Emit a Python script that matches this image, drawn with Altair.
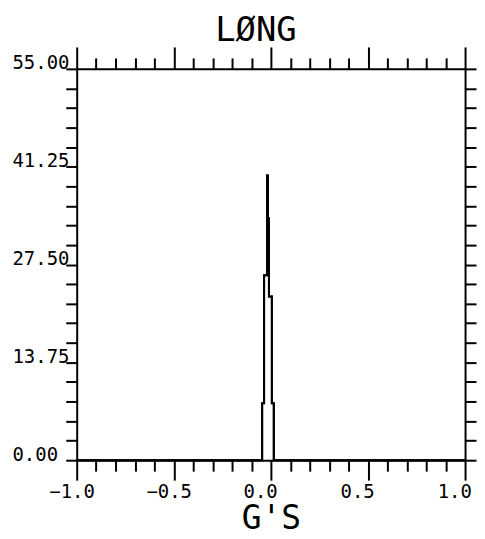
import altair as alt
import pandas as pd

# Histogram outline of the "LØNG" channel (step-after: x = bin left edge, y = height)
edge_x = [-1.0, -0.045, -0.035, -0.02, -0.015, -0.01, 0.005, 0.015, 1.0]
count_y = [0, 8, 26, 40, 34, 23, 8, 0, 0]

# axis ticks and labelled ticks
x_ticks = [round(-1.0 + 0.1 * i, 1) for i in range(21)]
x_major = [-1.0, -0.5, 0.0, 0.5, 1.0]
y_ticks = [2.75 * i for i in range(21)]
y_major = [0.0, 13.75, 27.5, 41.25, 55.0]

chart_title = "LØNG"
x_title = "G'S"

FONT = "DejaVu Sans Mono"
df = pd.DataFrame({"x": edge_x, "y": count_y})

maj_x = "indexof([%s], datum.value) >= 0" % ",".join(str(v) for v in x_major)
maj_y = "indexof([%s], datum.value) >= 0" % ",".join(str(v) for v in y_major)

xs = alt.Scale(domain=[-1, 1], nice=False, zero=False)
ys = alt.Scale(domain=[0, 55], nice=False, zero=True)

common = dict(domainColor="black", tickColor="black", domainWidth=2, tickWidth=2,
              grid=False, labelColor="black", titleColor="black",
              labelFlush=False, labelOverlap=False)

x_bottom = alt.Axis(orient="bottom", values=x_ticks, format=".1f",
                    labelExpr=f"{maj_x} ? datum.label : ''",
                    tickSize={"condition": {"test": maj_x, "value": 20}, "value": 11},
                    labelAlign="left", labelOffset=-28, labelPadding=2,
                    labelFont=FONT, labelFontSize=19,
                    title=x_title, titleFont=FONT, titleFontSize=33,
                    titleFontWeight="normal", titlePadding=2, **common)
y_left = alt.Axis(orient="left", values=y_ticks, format=".2f",
                  labelExpr=f"{maj_y} ? datum.label : ''",
                  tickSize=11, labelAlign="left", labelPadding=54,
                  labelBaseline="alphabetic",
                  labelFont=FONT, labelFontSize=19, title=None, **common)
x_top = alt.Axis(orient="top", values=x_ticks, labels=False, title=None,
                 tickSize={"condition": {"test": maj_x, "value": 22}, "value": 11},
                 **common)
y_right = alt.Axis(orient="right", values=y_ticks, labels=False, title=None,
                   tickSize=11, **common)

base = alt.Chart(df)
main = base.mark_line(interpolate="step-after", color="black", strokeWidth=2).encode(
    x=alt.X("x:Q", scale=xs, axis=x_bottom),
    y=alt.Y("y:Q", scale=ys, axis=y_left),
)
mirror = base.mark_line(interpolate="step-after", color="black", strokeWidth=2).encode(
    x=alt.X("x:Q", scale=xs, axis=x_top),
    y=alt.Y("y:Q", scale=ys, axis=y_right),
)

chart = (
    alt.layer(main, mirror)
    .resolve_axis(x="independent", y="independent")
    .properties(
        width=390, height=393,
        title=alt.TitleParams(chart_title, font=FONT, fontSize=34, fontWeight="normal",
                              color="black", dx=-15, offset=-2, anchor="middle"),
        autosize=alt.AutoSizeParams(type="none"),
        padding={"left": 69, "top": 60, "right": 12, "bottom": 76},
        background="white",
    )
    .configure_view(stroke=None)
)

chart.save("out.html", embed_options={"renderer": "svg", "actions": False})
